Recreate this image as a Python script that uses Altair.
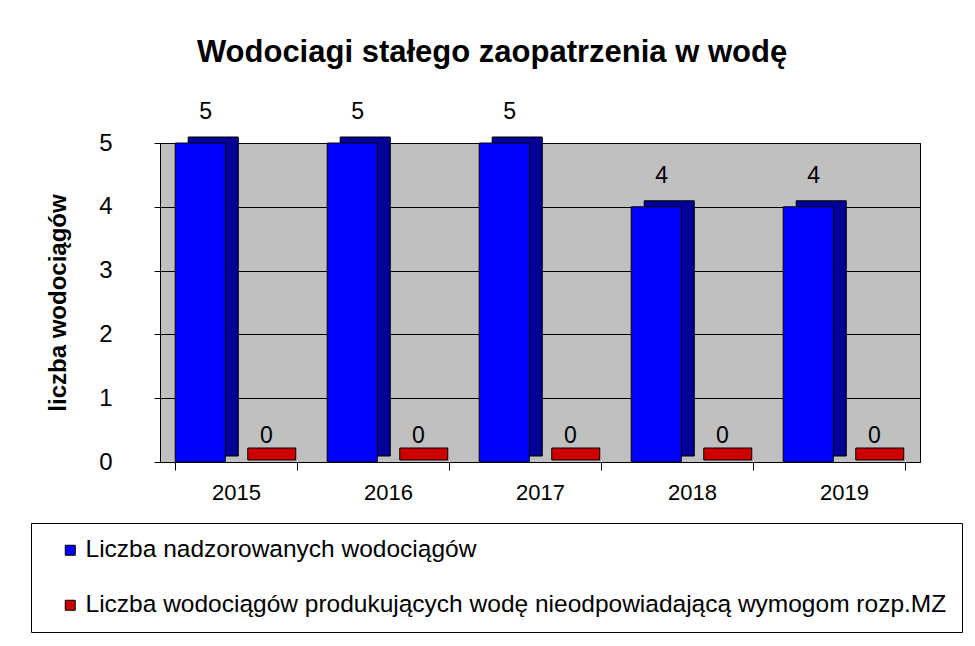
import altair as alt
import pandas as pd

years = ["2015", "2016", "2017", "2018", "2019"]
series = [
    "Liczba nadzorowanych wodociągów",
    "Liczba wodociągów produkujących wodę nieodpowiadającą wymogom rozp.MZ",
]
supervised = [5, 5, 5, 4, 4]
non_compliant = [0, 0, 0, 0, 0]
colors = ["#0000ff", "#cc0000"]

rows = []
for y, a, b in zip(years, supervised, non_compliant):
    rows.append({"year": y, "series": series[0], "value": a})
    rows.append({"year": y, "series": series[1], "value": b})
df = pd.DataFrame(rows)

FONT = "Liberation Sans"

x_enc = alt.X(
    "year:N",
    sort=years,
    title=None,
    scale=alt.Scale(paddingInner=0.2, paddingOuter=0.1),
    axis=alt.Axis(
        labelFontSize=22,
        labelColor="black",
        labelPadding=12,
        tickBand="extent",
        tickSize=8,
        tickColor="black",
        domainColor="black",
        labelAngle=0,
        grid=False,
    ),
)
xoff = alt.XOffset("series:N", sort=series, scale=alt.Scale(domain=series, paddingInner=0.3))
xoff_side = alt.XOffset(
    "series:N", sort=series,
    scale=alt.Scale(domain=series, paddingInner=0.3, range=[13, 134.6]),
)
y_enc = alt.Y(
    "value:Q",
    scale=alt.Scale(domain=[0, 5], nice=False),
    title="liczba wodociągów",
    axis=alt.Axis(
        values=[0, 1, 2, 3, 4, 5],
        labelFontSize=24,
        labelColor="black",
        labelPadding=42,
        tickSize=6,
        tickColor="black",
        domainColor="black",
        gridColor="black",
        gridWidth=1,
        titleFontSize=24,
        titleFontWeight="bold",
        titleColor="black",
        titlePadding=28,
    ),
)
color_enc = alt.Color(
    "series:N",
    sort=series,
    scale=alt.Scale(domain=series, range=colors),
    legend=alt.Legend(
        title=None,
        orient="none",
        legendX=-129,
        legendY=380,
        direction="vertical",
        labelFontSize=24.5,
        labelColor="black",
        labelLimit=1000,
        labelOffset=3,
        rowPadding=30,
        padding=15,
        symbolOffset=12,
        symbolType="square",
        symbolSize=100,
        symbolStrokeColor="black",
        symbolStrokeWidth=1,
        strokeColor="black",
        fillColor="white",
    ),
)

base = alt.Chart(df)
blue = base.transform_filter(alt.datum.series == series[0])
red = base.transform_filter(alt.datum.series == series[1])

side = blue.mark_bar(
    color="#000099", stroke="black", strokeWidth=1, yOffset=-6, y2Offset=-6
).encode(x=x_enc, xOffset=xoff_side, y=y_enc)

front = blue.mark_bar(stroke="black", strokeWidth=1).encode(
    x=x_enc, xOffset=xoff, y=y_enc, color=color_enc
)

red_bar = red.mark_tick(
    stroke="black", strokeWidth=1, size=48, thickness=12, yOffset=-8, opacity=1
).encode(x=x_enc, xOffset=xoff, y=y_enc, color=color_enc)

blue_lbl = blue.mark_text(baseline="bottom", dy=-19, fontSize=23, font=FONT, color="black").encode(
    x=x_enc, xOffset=xoff, y=y_enc, text="value:Q"
)
red_lbl = red.mark_text(baseline="bottom", dy=-14, fontSize=23, font=FONT, color="black").encode(
    x=x_enc, xOffset=xoff, y=y_enc, text="value:Q"
)

chart = (
    alt.layer(side, front, red_bar, blue_lbl, red_lbl)
    .resolve_scale(xOffset="independent")
    .properties(
        width=760,
        height=319,
        autosize=alt.AutoSizeParams(type="none"),
        padding={"left": 152, "top": 135, "right": 47, "bottom": 180},
        title=alt.TitleParams(
            "Wodociagi stałego zaopatrzenia w wodę",
            fontSize=31,
            fontWeight="bold",
            font=FONT,
            color="black",
            anchor="middle",
            dx=-48,
            offset=32,
        ),
    )
    .configure(font=FONT)
    .configure_view(fill="#c0c0c0", stroke="black", strokeWidth=1)
)

chart.save("out.html", embed_options={"renderer": "svg", "actions": False})
